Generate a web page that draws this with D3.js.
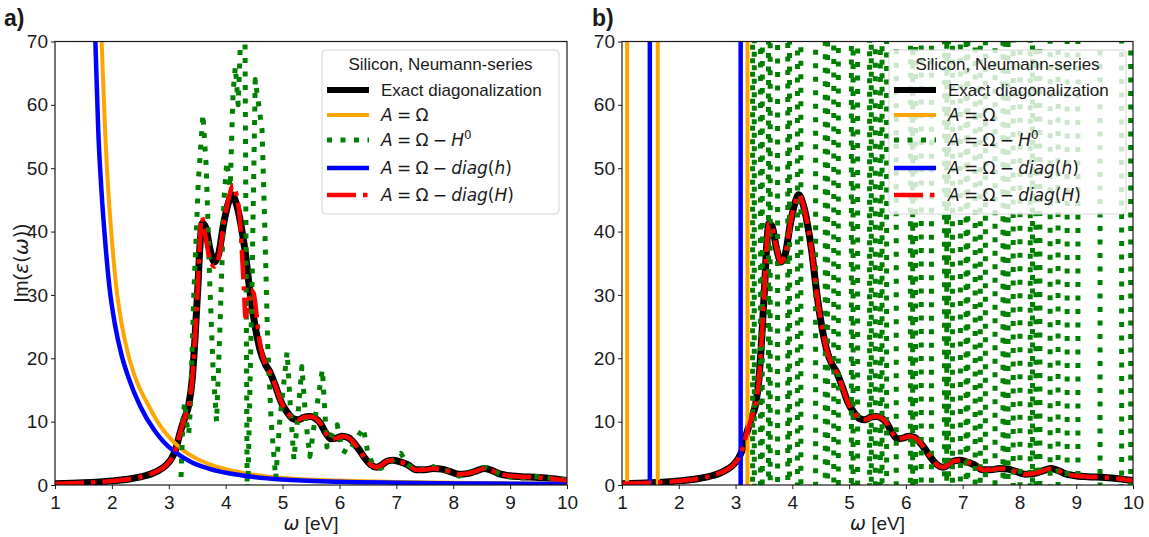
<!DOCTYPE html>
<html>
<head>
<meta charset="utf-8">
<script src="https://cdn.jsdelivr.net/npm/d3@7"></script>
<style>
  body { margin: 0; background: #fff; }
  svg { display: block; }
</style>
</head>
<body>
<svg id="chart" width="1149" height="537"></svg>
<script>
// ---- tick labels ----
const xTicks = [1, 2, 3, 4, 5, 6, 7, 8, 9, 10];
const yTicks = [0, 10, 20, 30, 40, 50, 60, 70];

// ---- Im(eps(omega)) of silicon, exact diagonalization: [omega (eV), value] ----
const exactSpectrum = [
  [1.0,0.2],[1.5,0.35],[2.0,0.65],[2.3,0.95],[2.6,1.5],[2.8,2.2],[2.95,3.1],[3.05,4.2],
  [3.12,5.6],[3.2,8.3],[3.28,10.6],[3.35,12.6],[3.41,16.5],[3.46,23],[3.51,31],[3.55,38],
  [3.59,41.3],[3.65,40.6],[3.72,37.4],[3.8,35.2],[3.88,36.6],[3.96,41],[4.04,44.3],[4.11,45.8],
  [4.18,44.6],[4.26,41.5],[4.34,37],[4.42,31],[4.5,26],[4.6,21.5],[4.7,19],[4.78,17.8],
  [4.88,15.5],[4.98,13],[5.08,11.5],[5.18,10.5],[5.28,10.3],[5.38,10.7],[5.48,10.8],[5.58,10.5],
  [5.66,9.8],[5.76,8.2],[5.85,7.3],[5.95,7.4],[6.05,7.7],[6.15,7.5],[6.25,6.7],[6.35,5.5],
  [6.45,4.2],[6.55,3.2],[6.65,2.8],[6.75,3.2],[6.85,3.8],[6.95,3.9],[7.05,3.7],[7.2,3.2],
  [7.35,2.4],[7.5,2.4],[7.65,2.6],[7.8,2.5],[7.95,2.1],[8.1,1.7],[8.25,1.8],[8.4,2.2],
  [8.55,2.6],[8.65,2.4],[8.8,1.8],[8.95,1.5],[9.2,1.3],[9.5,1.2],[9.75,1.0],[10.0,0.7]
];

// ---- Neumann series, A = Omega - diag(H) ----
const diagBigH = [
  [1.0,0.2],[1.5,0.35],[2.0,0.65],[2.3,0.95],[2.6,1.5],[2.8,2.2],[2.95,3.1],[3.05,4.2],
  [3.12,5.6],[3.2,8.3],[3.28,10.6],[3.35,12.6],[3.41,16.5],[3.46,23],[3.51,31],[3.55,39],
  [3.58,42.3],[3.64,39.5],[3.71,36],[3.8,34.5],[3.88,36],[3.97,41.5],[4.06,45.5],[4.13,47.3],
  [4.2,45.3],[4.25,42],[4.29,36],[4.32,31],[4.35,26.5],[4.39,28.5],[4.44,30.8],[4.49,30.3],
  [4.53,28],[4.57,24.5],[4.62,21.5],[4.7,19],[4.78,17.8],
  [4.88,15.5],[4.98,13],[5.08,11.5],[5.18,10.5],[5.28,10.3],[5.38,10.7],[5.48,10.8],[5.58,10.5],
  [5.66,9.8],[5.76,8.2],[5.85,7.3],[5.95,7.4],[6.05,7.7],[6.15,7.5],[6.25,6.7],[6.35,5.5],
  [6.45,4.2],[6.55,3.2],[6.65,2.8],[6.75,3.2],[6.85,3.8],[6.95,3.9],[7.05,3.7],[7.2,3.2],
  [7.35,2.4],[7.5,2.4],[7.65,2.6],[7.8,2.5],[7.95,2.1],[8.1,1.7],[8.25,1.8],[8.4,2.2],
  [8.55,2.6],[8.65,2.4],[8.8,1.8],[8.95,1.5],[9.2,1.3],[9.5,1.2],[9.75,1.0],[10.0,0.7]
];

// ---- A = Omega ----
const omegaOnly = [
  [1.72,95],[1.77,82],[1.82,70],[1.88,56],[1.94,46],[2.0,38.7],[2.08,31],[2.17,25.5],
  [2.29,20.5],[2.41,17],[2.64,12.6],[2.86,9.2],[3.04,7.2],[3.25,5.5],[3.5,4.1],[3.8,3.0],
  [4.3,1.9],[5.0,1.1],[6.0,0.7],[7.0,0.48],[8.5,0.32],[10.0,0.22]
];

// ---- A = Omega - diag(h) ----
const diagSmallH = [
  [1.63,95],[1.67,82],[1.71,70],[1.76,56],[1.82,46],[1.88,38.7],[1.96,31],[2.05,25.5],
  [2.17,20.5],[2.29,17],[2.5,12.4],[2.75,8.6],[2.92,6.7],[3.11,5.2],[3.4,3.6],[3.7,2.6],
  [4.3,1.5],[5.0,0.85],[6.0,0.5],[7.0,0.35],[8.5,0.22],[10.0,0.15]
];

// ---- A = Omega - H^0 ----
const omegaMinusH0 = [
  [3.2,-3],[3.25,11],[3.28,13],[3.31,10],[3.35,8],[3.38,12],[3.44,30],[3.52,48],[3.6,58.5],
  [3.66,50],[3.72,32],[3.78,18],[3.84,10],[3.9,25],[3.97,45],[4.02,51],[4.08,47],[4.13,62],
  [4.17,66],[4.22,60],[4.28,75],[4.33,90],[4.38,-5],[4.46,30],[4.52,64],[4.58,60],[4.64,56],
  [4.69,40],[4.74,22],[4.8,10],[4.88,1],[4.95,10],[5.08,21],[5.14,12],[5.2,4],[5.27,11],
  [5.34,18.7],[5.41,10],[5.48,4.5],[5.58,11],[5.7,18.2],[5.78,6],[5.87,8],[5.96,9.5],
  [6.05,5.5],[6.15,5],[6.25,6.5],[6.35,8],[6.42,9],[6.5,5],[6.6,3],[6.72,2.6],[6.85,3.3],
  [6.98,4.2],[7.08,5],[7.2,3.2],[7.35,2.3],[7.5,2.5],[7.65,2.9],[7.8,2.3],[7.95,2.2],
  [8.1,1.4],[8.25,1.9],[8.4,2.1],[8.55,2.8],[8.7,2.3],[8.85,1.6],[9.0,1.3],[9.2,1.1],
  [9.4,1.4],[9.6,1.2],[9.8,1.0],[10.0,0.8]
];

// ---- pole positions of the divergent series (panel b), eV ----
const omegaOnlyPoles = [1.09, 1.63, 3.21];
const diagSmallHPoles = [1.49, 3.09];
const omegaMinusH0Poles = [
  3.30, 3.33, 3.44, 3.47, 3.58, 3.61, 3.74, 3.92, 3.95, 4.09, 4.15, 4.41, 4.58, 4.62,
  4.73, 4.81, 5.04, 5.07, 5.15, 5.36, 5.39, 5.46, 5.55, 5.58, 5.66, 5.83, 6.08, 6.12,
  6.17, 6.27, 6.45, 6.68, 6.72, 6.75, 6.82, 6.96, 7.06, 7.09, 7.22, 7.31, 7.40, 7.57,
  7.71, 7.75, 7.80, 7.89, 8.01, 8.19, 8.23, 8.29, 8.36, 8.54, 8.68, 8.84, 9.03, 9.42,
  9.80, 9.96
];

const legendTitle = "Silicon, Neumann-series";

// ---- layout / styling ----
const SANS = "'Liberation Sans', Arial, Helvetica, sans-serif";
const MATH = "'DejaVu Sans', sans-serif";
const TOP = 41.5, BOTTOM = 485;
const INK = "#1a1a1a";
const SP = "\u2005"; // math spacing around operators

const styles = {
  exact:  { color: "#000000", width: 7 },
  omega:  { color: "#FFA500", width: 4 },
  h0:     { color: "#008000", width: 5, dash: "5,8.5" },
  diagh:  { color: "#0000FF", width: 4.5 },
  diagH:  { color: "#FF0000", width: 4.5, dash: "29,7,4.5,7" }
};

const legendRows = [
  { key: "exact", parts: [{ t: "Exact diagonalization", f: "sans" }] },
  { key: "omega", parts: [{ t: "A", i: true }, { t: SP + "=" + SP + "Ω" }] },
  { key: "h0",    parts: [{ t: "A", i: true }, { t: SP + "=" + SP + "Ω" + SP + "−" + SP }, { t: "H", i: true }, { t: "0", sup: true }] },
  { key: "diagh", parts: [{ t: "A", i: true }, { t: SP + "=" + SP + "Ω" + SP + "−" + SP }, { t: "diag", i: true }, { t: "(" }, { t: "h", i: true }, { t: ")" }] },
  { key: "diagH", parts: [{ t: "A", i: true }, { t: SP + "=" + SP + "Ω" + SP + "−" + SP }, { t: "diag", i: true }, { t: "(" }, { t: "H", i: true }, { t: ")" }] }
];

const svg = d3.select("#chart");
const defs = svg.append("defs");
const y = d3.scaleLinear().domain([0, 70]).range([BOTTOM, TOP]);

function styled(sel, s) {
  sel.attr("fill", "none")
     .attr("stroke", s.color)
     .attr("stroke-width", s.width)
     .attr("stroke-linejoin", "round")
     .attr("stroke-linecap", "butt");
  if (s.dash) sel.attr("stroke-dasharray", s.dash);
  return sel;
}

function writeParts(text, parts, size) {
  parts.forEach(p => {
    const ts = text.append("tspan").text(p.t);
    ts.attr("font-family", p.f === "sans" ? SANS : MATH);
    if (p.i) ts.attr("font-style", "italic");
    if (p.sup) ts.attr("font-size", size * 0.7).attr("dy", -size * 0.42);
  });
}

function drawPanel(p) {
  const x = d3.scaleLinear().domain([1, 10]).range([p.left, p.right]);
  const g = svg.append("g");

  defs.append("clipPath").attr("id", "clip-" + p.id)
    .append("rect").attr("x", p.left).attr("y", TOP)
    .attr("width", p.right - p.left).attr("height", BOTTOM - TOP);

  const plot = g.append("g").attr("clip-path", `url(#clip-${p.id})`);
  const smooth = d3.line().x(d => x(d[0])).y(d => y(d[1])).curve(d3.curveMonotoneX);
  const straight = d3.line().x(d => x(d[0])).y(d => y(d[1]));

  // exact spectrum underneath everything
  styled(plot.append("path").attr("d", smooth(exactSpectrum)), styles.exact);

  if (p.id === "a") {
    styled(plot.append("path").attr("d", smooth(omegaOnly)), styles.omega);
    styled(plot.append("path").attr("d", straight(omegaMinusH0)), styles.h0);
    styled(plot.append("path").attr("d", smooth(diagSmallH)), styles.diagh);
    styled(plot.append("path").attr("d", smooth(diagBigH)), styles.diagH);
  } else {
    omegaOnlyPoles.forEach(w =>
      styled(plot.append("path").attr("d", straight([[w, -8], [w, 78]])), styles.omega));
    // divergent H0 series: near-vertical branches at every pole
    const zig = [];
    omegaMinusH0Poles.forEach((w, i) => {
      if (i % 2 === 0) { zig.push([w, -8], [w, 78]); }
      else { zig.push([w, 78], [w, -8]); }
    });
    styled(plot.append("path").attr("d", straight(zig)), styles.h0);
    diagSmallHPoles.forEach(w =>
      styled(plot.append("path").attr("d", straight([[w, -8], [w, 78]])), styles.diagh));
    styled(plot.append("path").attr("d", smooth(exactSpectrum)), styles.diagH);
  }

  // axes
  const xAxis = g.append("g").attr("transform", `translate(0,${BOTTOM})`)
    .call(d3.axisBottom(x).tickValues(xTicks).tickSize(4).tickPadding(7).tickFormat(d3.format("d")));
  const yAxis = g.append("g").attr("transform", `translate(${p.left},0)`)
    .call(d3.axisLeft(y).tickValues(yTicks).tickSize(4).tickPadding(3).tickFormat(d3.format("d")));
  [xAxis, yAxis].forEach(a => {
    a.select(".domain").remove();
    a.selectAll(".tick line").attr("stroke", INK).attr("stroke-width", 1);
    a.selectAll(".tick text").attr("font-family", SANS).attr("font-size", 19).attr("fill", INK);
  });

  // frame
  g.append("rect").attr("x", p.left).attr("y", TOP)
    .attr("width", p.right - p.left).attr("height", BOTTOM - TOP)
    .attr("fill", "none").attr("stroke", INK).attr("stroke-width", 1.2);

  // x label
  const xl = g.append("text").attr("x", (p.left + p.right) / 2).attr("y", 530)
    .attr("text-anchor", "middle").attr("font-size", 19).attr("fill", INK);
  xl.append("tspan").attr("font-family", MATH).attr("font-style", "italic").text("ω");
  xl.append("tspan").attr("font-family", SANS).text(" [eV]");

  // panel tag
  g.append("text").attr("x", p.tagX).attr("y", 26)
    .attr("font-family", SANS).attr("font-weight", "bold").attr("font-size", 23)
    .attr("fill", INK).text(p.tag);

  if (p.id === "a") {
    const yl = g.append("text")
      .attr("transform", `translate(28,${(TOP + BOTTOM) / 2}) rotate(-90)`)
      .attr("text-anchor", "middle").attr("font-size", 20).attr("fill", INK);
    yl.append("tspan").attr("font-family", SANS).text("Im(");
    yl.append("tspan").attr("font-family", MATH).attr("font-style", "italic").text("ε");
    yl.append("tspan").attr("font-family", MATH).text("(");
    yl.append("tspan").attr("font-family", MATH).attr("font-style", "italic").text("ω");
    yl.append("tspan").attr("font-family", MATH).text(")");
    yl.append("tspan").attr("font-family", SANS).text(")");
  }

  drawLegend(g, p.legendX, 50);
}

function drawLegend(g, x0, y0) {
  const w = 237, h = 164;
  g.append("rect").attr("x", x0).attr("y", y0).attr("width", w).attr("height", h)
    .attr("rx", 4).attr("fill", "rgba(255,255,255,0.8)")
    .attr("stroke", "#d4d4d4").attr("stroke-width", 1);
  g.append("text").attr("x", x0 + w / 2).attr("y", y0 + 20)
    .attr("text-anchor", "middle").attr("font-family", SANS).attr("font-size", 17)
    .attr("fill", INK).text(legendTitle);
  const rowY = [40, 65, 90, 118, 145];
  legendRows.forEach((r, i) => {
    const cy = y0 + rowY[i];
    const s = styles[r.key];
    styled(g.append("line").attr("x1", x0 + 5).attr("x2", x0 + 47)
      .attr("y1", cy).attr("y2", cy), s)
      .attr("stroke-width", r.key === "exact" ? 6 : s.width);
    const t = g.append("text").attr("x", x0 + 59).attr("y", cy + 6)
      .attr("font-size", 17).attr("fill", INK);
    writeParts(t, r.parts, 17);
  });
}

drawPanel({ id: "a", left: 55, right: 567, tag: "a)", tagX: 4, legendX: 322 });
drawPanel({ id: "b", left: 622, right: 1133, tag: "b)", tagX: 592, legendX: 889 });
</script>
</body>
</html>
